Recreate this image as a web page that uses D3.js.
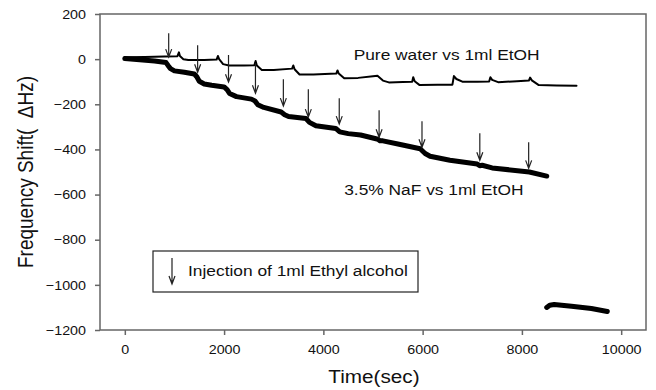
<!DOCTYPE html>
<html lang="en">
<head>
<meta charset="UTF-8">
<title>Frequency shift vs time</title>
<script src="https://d3js.org/d3.v7.min.js"></script>
<style>
    body { margin: 0; background: #fff; }
    svg { display: block; font-family: Arial, "Liberation Sans", sans-serif; }
</style>
</head>
<body>
<div id="chart"></div>
<script>
// pure water vs 1ml EtOH (thin trace)
const waterTime  = [0, 400, 800, 1060, 1090, 1110, 1180, 1280, 1600, 1850, 1875, 1900, 1980, 2100, 2400, 2610, 2635, 2660, 2760, 3000, 3370, 3395, 3420, 3520, 3800, 4260, 4285, 4310, 4420, 4700, 5000, 5090, 5200, 5320, 5600, 5790, 5810, 5840, 5940, 6300, 6600, 6630, 6680, 6800, 7100, 7340, 7365, 7400, 7520, 7900, 8140, 8165, 8200, 8340, 8700, 9100];
const waterShift = [8, 10, 12, 13, 30, 14, 0, -4, -4, -2, 14, 0, -22, -28, -28, -27, -8, -28, -48, -48, -42, -28, -45, -68, -68, -64, -50, -64, -85, -83, -76, -74, -95, -103, -101, -100, -80, -98, -115, -113, -113, -75, -88, -100, -100, -99, -80, -92, -102, -98, -95, -82, -94, -115, -117, -118];

// 3.5% NaF vs 1ml EtOH (thick trace)
const nafTime  = [0, 300, 600, 830, 870, 920, 1000, 1200, 1400, 1450, 1500, 1600, 1750, 2000, 2060, 2110, 2250, 2550, 2620, 2680, 2800, 3150, 3220, 3300, 3650, 3720, 3850, 4250, 4330, 4500, 4750, 5100, 5140, 5200, 5550, 5950, 6050, 6150, 6550, 7100, 7150, 7200, 7400, 8150, 8500];
const nafShift = [3, -3, -8, -15, -28, -42, -52, -58, -66, -78, -98, -110, -116, -123, -135, -152, -166, -177, -185, -202, -214, -234, -246, -254, -263, -280, -295, -307, -322, -330, -336, -355, -362, -362, -378, -397, -418, -430, -448, -465, -472, -470, -482, -500, -518];

// detached piece of the NaF trace at the bottom right
const nafTailTime  = [8500, 8560, 8650, 9000, 9400, 9720];
const nafTailShift = [-1100, -1090, -1087, -1095, -1105, -1118];

// injection arrows: time, top of shaft, tip
const arrowTime = [884, 1467, 2089, 2632, 3194, 3697, 4320, 5123, 5987, 7152, 8136];
const arrowTop  = [115, 62, 18, -18, -89, -133, -173, -226, -275, -328, -368];
const arrowTip  = [9, -58, -102, -151, -208, -257, -288, -346, -390, -448, -484];

const xTicks = [0, 2000, 4000, 6000, 8000, 10000];
const yTicks = [-1200, -1000, -800, -600, -400, -200, 0, 200];

const width = 656, height = 390;
const plotL = 100, plotR = 646, plotT = 14, plotB = 330;
const sx = 1.12; // the original figure is stretched a bit sideways

const x = d3.scaleLinear().domain([-500, 10500]).range([plotL, plotR]);
const y = d3.scaleLinear().domain([-1200, 200]).range([plotB, plotT]);

const svg = d3.select("#chart").append("svg")
    .attr("width", width)
    .attr("height", height);

// axes
const gx = svg.append("g")
    .attr("transform", `translate(0,${plotB})`)
    .call(d3.axisBottom(x).tickValues(xTicks).tickSize(5).tickPadding(10).tickFormat(d3.format("d")));
const gy = svg.append("g")
    .attr("transform", `translate(${plotL},0)`)
    .call(d3.axisLeft(y).tickValues(yTicks).tickSize(5).tickPadding(9).tickFormat(d3.format("d")));

[gx, gy].forEach(g => {
    g.select(".domain").remove();
    g.selectAll(".tick line").attr("stroke", "#666").attr("stroke-width", 1.5);
    g.selectAll(".tick text").attr("fill", "#111").style("font-size", "13px")
        .style("font-family", "Arial, 'Liberation Sans', sans-serif");
});
gy.selectAll(".tick text").attr("x", -14 / 1.1).attr("transform", "scale(1.1,1)");
gx.selectAll(".tick text").attr("transform", "scale(1.1,1)");

// frame
svg.append("rect")
    .attr("x", plotL).attr("y", plotT)
    .attr("width", plotR - plotL).attr("height", plotB - plotT)
    .attr("fill", "none").attr("stroke", "#666").attr("stroke-width", 1.5);

const line = d3.line().x(d => x(d[0])).y(d => y(d[1]));

function drawTrace(times, shifts, w) {
    svg.append("path")
        .datum(d3.zip(times, shifts))
        .attr("d", line)
        .attr("fill", "none")
        .attr("stroke", "#000")
        .attr("stroke-width", w)
        .attr("stroke-linejoin", "round")
        .attr("stroke-linecap", "round");
}
drawTrace(nafTime, nafShift, 5);
drawTrace(nafTailTime, nafTailShift, 5);
drawTrace(waterTime, waterShift, 2);

function arrowPath(px, y0, y1) {
    return `M${px},${y0}L${px},${y1}M${px - 3},${y1 - 8}L${px},${y1}L${px + 3},${y1 - 8}`;
}

svg.append("g").selectAll("path")
    .data(d3.zip(arrowTime, arrowTop, arrowTip))
    .join("path")
    .attr("d", d => arrowPath(x(d[0]), y(d[1]), y(d[2])))
    .attr("fill", "none")
    .attr("stroke", "#222")
    .attr("stroke-width", 1.2);

function label(text, px, py, size, anchor) {
    return svg.append("text")
        .attr("transform", `translate(${px},${py}) scale(${sx},1)`)
        .attr("text-anchor", anchor || "start")
        .style("font-size", size + "px")
        .style("white-space", "pre")
        .attr("fill", "#111")
        .text(text);
}

label("Pure water vs 1ml EtOH", x(4610), y(-4), 15.5);
label("3.5% NaF vs 1ml EtOH", x(4420), y(-600), 15.5);

// legend box
svg.append("rect")
    .attr("x", 153).attr("y", 251)
    .attr("width", 265).attr("height", 41)
    .attr("fill", "#fff").attr("stroke", "#222").attr("stroke-width", 1.2);
svg.append("path")
    .attr("d", arrowPath(172, 258, 284))
    .attr("fill", "none").attr("stroke", "#222").attr("stroke-width", 1.2);
label("Injection of 1ml Ethyl alcohol", 188, 276, 15.5);

// axis titles
label("Time(sec)", (plotL + plotR) / 2 + 1, 383, 18.5, "middle");
svg.append("text")
    .attr("transform", `translate(33,${(plotT + plotB) / 2}) rotate(-90) scale(1,${sx})`)
    .attr("text-anchor", "middle")
    .style("font-size", "19px")
    .style("white-space", "pre")
    .attr("fill", "#111")
    .text("Frequency Shift(  \u0394Hz)");
</script>
</body>
</html>
